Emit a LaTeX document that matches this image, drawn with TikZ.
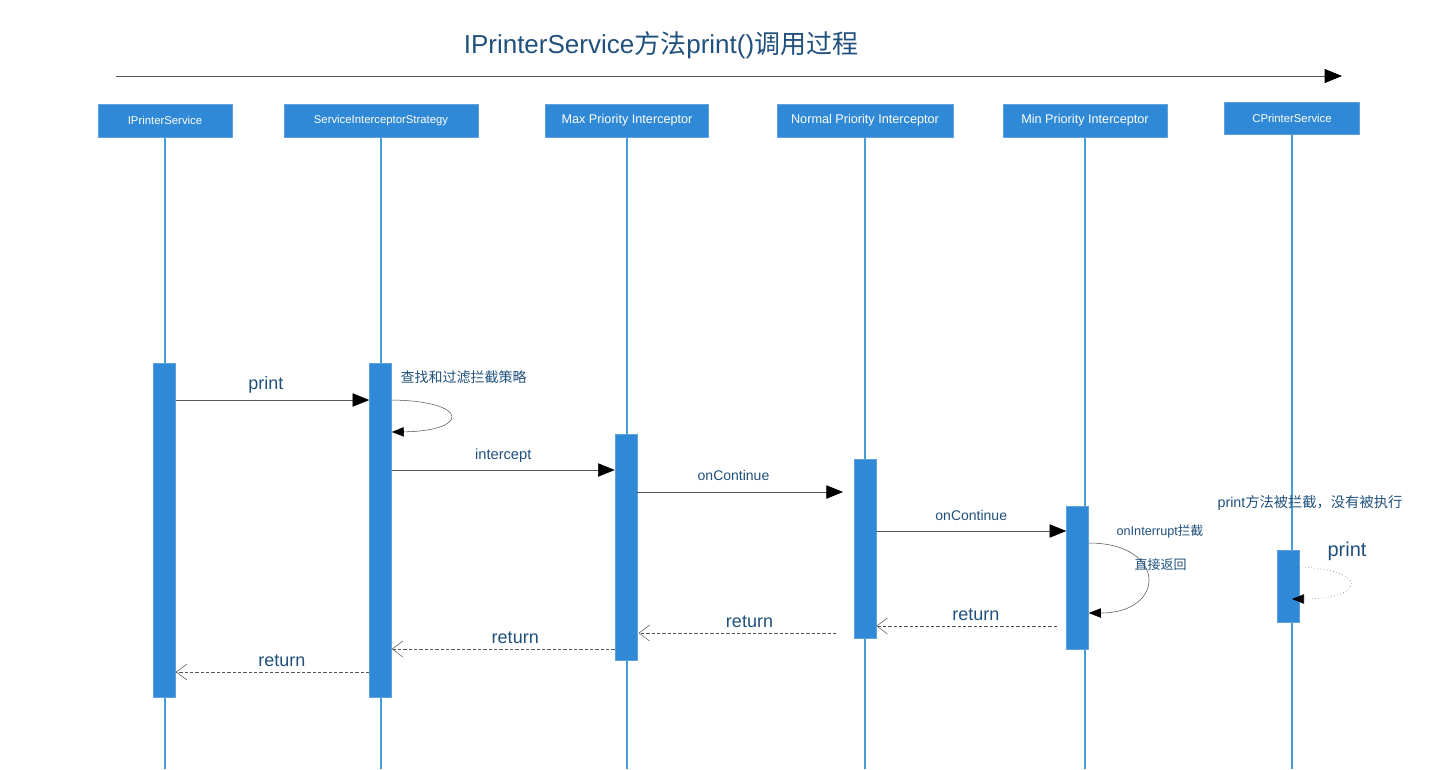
\documentclass[tikz,border=0pt]{standalone}
\usepackage{fontspec}
\setmainfont{Liberation Sans}
\newfontfamily\cjk{Noto Sans CJK SC}
\usetikzlibrary{arrows.meta, positioning}
\newcommand{\zh}[1]{{\cjk #1}}
\def\px{0.75pt}
\definecolor{cajaazul}{RGB}{47,137,214}
\definecolor{bordeazul}{RGB}{95,160,222}
\definecolor{lineaazul}{RGB}{70,158,212}
\definecolor{textoazul}{RGB}{32,80,124}
\definecolor{gris}{RGB}{85,85,85}
\tikzset{
    caja/.style={fill=cajaazul, draw=bordeazul, line width=0.6pt, text=white, inner sep=0pt, minimum height=33*\px},
    barra/.style={fill=cajaazul, draw=bordeazul, line width=0.4pt, inner sep=0pt, minimum width=22*\px},
    vida/.style={draw=lineaazul, line width=0.95pt},
    msg/.style={draw=gris, line width=0.5pt, -{Triangle[length=12.5pt,width=10pt,color=black]}},
    lazo/.style={draw=gris, line width=0.4pt, -{Triangle[length=9pt,width=7pt,color=black]}},
    ret/.style={draw=gris, line width=0.45pt, dash pattern=on 2.5pt off 1.5pt, -{Straight Barb[length=8pt,width=12pt,line width=0.4pt]}},
    etiqueta/.style={text=textoazul, inner sep=1pt},
}

\begin{document}
\begin{tikzpicture}[x=0.75pt, y=-0.75pt]
\useasboundingbox (0,0) rectangle (1435,769);

% Titulo y eje de tiempo
\node[text=textoazul, font=\fontsize{19.5}{22}\selectfont] (titulo) at (661,45) {IPrinterService\zh{方法}print()\zh{调用过程}};
\coordinate (ejeA) at (116,76);
\coordinate (ejeB) at (1342,76);
\draw[draw=gris, line width=0.6pt, -{Triangle[length=13pt,width=10.5pt,color=black]}] (ejeA) -- (ejeB);

% Participantes
\node[caja, minimum width=134*\px, font=\fontsize{8.5}{10}\selectfont] (c1) at (165,120.5) {IPrinterService};
\node[caja, minimum width=194*\px, font=\fontsize{8.5}{10}\selectfont] (c2) at (381,120.5) {ServiceInterceptorStrategy};
\node[caja, minimum width=163*\px, font=\fontsize{9.5}{11}\selectfont] (c3) at (627,120.5) {Max Priority Interceptor};
\node[caja, minimum width=176*\px, font=\fontsize{9.5}{11}\selectfont] (c4) at (865,120.5) {Normal Priority Interceptor};
\node[caja, minimum width=164*\px, font=\fontsize{9.5}{11}\selectfont] (c5) at (1085,120.5) {Min Priority Interceptor};
\node[caja, minimum width=135*\px, minimum height=32*\px, font=\fontsize{8.5}{10}\selectfont] (c6) at (1292,118) {CPrinterService};

% Lineas de vida
\coordinate (fondo) at (0,769);
\foreach \c in {c1,c2,c3,c4,c5,c6} {
    \draw[vida] (\c.south) -- (\c.south |- fondo);
}

% Barras de activacion
\node[barra, minimum height=334*\px] (b1) at (164.5,530) {};
\node[barra, minimum height=334*\px] (b2) at (380.5,530) {};
\node[barra, minimum height=226*\px] (b3) at (626,547) {};
\node[barra, minimum height=179*\px] (b4) at (865,548.5) {};
\node[barra, minimum height=143*\px] (b5) at (1077.5,577.5) {};
\node[barra, minimum height=72*\px] (b6) at (1288.5,586) {};

% Alturas de los mensajes
\coordinate (m1) at (0,400);
\coordinate (m2) at (0,432);
\coordinate (m3) at (0,470);
\coordinate (m4) at (0,492);
\coordinate (m5) at (0,531);
\coordinate (m6) at (0,543);
\coordinate (m7) at (0,613);
\coordinate (m8) at (0,626);
\coordinate (m9) at (0,633);
\coordinate (m10) at (0,649);
\coordinate (m11) at (0,672);
\coordinate (m12) at (0,567);
\coordinate (m13) at (0,599);

% Llamadas
\draw[msg] (b1.east |- m1) -- node[etiqueta, above=3.5pt, font=\fontsize{13.5}{15}\selectfont, xshift=-5pt] (lprint) {print} (b2.west |- m1);
\draw[lazo] (b2.east |- m1) .. controls (470,401) and (470,431) .. (b2.east |- m2);
\node[etiqueta, anchor=west, font=\fontsize{10.5}{12}\selectfont] (lbuscar) at (399,377) {\zh{查找和过滤拦截策略}};
\draw[msg] (b2.east |- m3) -- node[etiqueta, above=4pt, font=\fontsize{11}{13}\selectfont] (lintercept) {intercept} (b3.west |- m3);
\draw[msg] (b3.east |- m4) -- node[etiqueta, above=7.5pt, font=\fontsize{10.5}{12}\selectfont, xshift=-5pt] (lcont1) {onContinue} ([xshift=-8pt]b4.west |- m4);
\draw[msg] (b4.east |- m5) -- node[etiqueta, above=6.5pt, font=\fontsize{10.5}{12}\selectfont] (lcont2) {onContinue} (b5.west |- m5);
\draw[lazo] (b5.east |- m6) .. controls (1167,543) and (1167,613) .. (b5.east |- m7);
\node[etiqueta, anchor=west, font=\fontsize{9.5}{11}\selectfont] (linterrupt) at (1115,531) {onInterrupt\zh{拦截}};
\node[etiqueta, anchor=west, font=\fontsize{9.75}{11}\selectfont] (ldirecto) at (1133,565) {\zh{直接返回}};

% Retornos
\draw[ret] ([xshift=-7pt]b5.west |- m8) -- node[etiqueta, above=3pt, font=\fontsize{13.5}{15}\selectfont, xshift=7pt] (lret4) {return} (b4.east |- m8);
\draw[ret] ([xshift=-13pt]b4.west |- m9) -- node[etiqueta, above=3pt, font=\fontsize{13.5}{15}\selectfont, xshift=9pt] (lret3) {return} ([xshift=1pt]b3.east |- m9);
\draw[ret] (b3.west |- m10) -- node[etiqueta, above=3pt, font=\fontsize{13.5}{15}\selectfont, xshift=9pt] (lret2) {return} (b2.east |- m10);
\draw[ret] (b2.west |- m11) -- node[etiqueta, above=3pt, font=\fontsize{13.5}{15}\selectfont, xshift=7pt] (lret1) {return} (b1.east |- m11);

% CPrinterService no se ejecuta
\node[etiqueta, anchor=west, font=\fontsize{10.7}{12}\selectfont] (lnoejec) at (1216,503) {print\zh{方法被拦截，没有被执行}};
\node[etiqueta, anchor=west, font=\fontsize{15}{17}\selectfont] (lprint2) at (1326,551) {print};
\draw[lazo, dotted] (c6.south |- m12) .. controls (1369,567) and (1369,599) .. (c6.south |- m13);
\end{tikzpicture}
\end{document}
